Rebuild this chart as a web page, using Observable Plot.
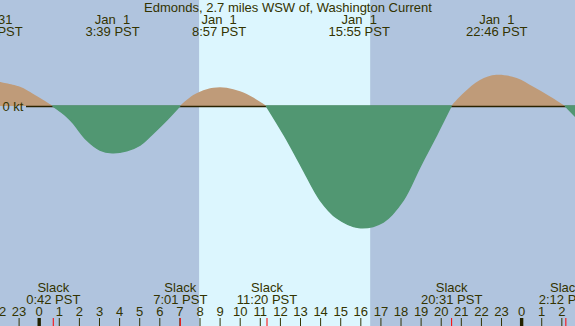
<!DOCTYPE html>
<html>
<head>
<meta charset="utf-8">
<script src="https://cdn.jsdelivr.net/npm/d3@7"></script>
<script src="https://cdn.jsdelivr.net/npm/@observablehq/plot@0.6"></script>
<style>
  html, body { margin: 0; padding: 0; overflow: hidden; background: #b0c4de; }
</style>
</head>
<body>
<div id="chart"></div>
<script>
// ---- data (hours relative to Jan 1 00:00 PST, speed in knots; flood +, ebb -) ----
const titleText = "Edmonds, 2.7 miles WSW of, Washington Current";
const curveHours = [-1.925, -0.93, -0.27, 0.23, 0.70,
  1.39, 1.72, 2.39, 3.05, 3.65, 4.38, 5.04, 5.70, 6.37, 7.017,
  7.69, 8.36, 9.02, 9.68, 10.35, 11.01, 11.333,
  12.25, 13.08, 14.0, 14.83, 15.917, 17.14, 18.14, 18.97, 19.80, 20.517,
  21.12, 21.95, 22.767, 23.78, 24.61, 25.44, 26.2, 26.68];
const curveKnots = [0.30, 0.24, 0.15, 0.075, 0,
  -0.13, -0.216, -0.425, -0.55, -0.584, -0.56, -0.49, -0.34, -0.175, 0,
  0.1375, 0.21, 0.234, 0.21, 0.15, 0.054, 0,
  -0.38, -0.76, -1.175, -1.40, -1.52, -1.45, -1.175, -0.76, -0.36, 0,
  0.16, 0.325, 0.39, 0.35, 0.24, 0.12, 0, -0.125];
const extremaHours = [-2.35, 3.65, 8.95, 15.917, 22.767];
const extremaLabels = ["Dec 31\n21:39 PST", "Jan\u00a0\u00a01\n3:39 PST", "Jan\u00a0\u00a01\n8:57 PST",
  "Jan\u00a0\u00a01\n15:55 PST", "Jan\u00a0\u00a01\n22:46 PST"];
const slackHours = [0.7, 7.017, 11.333, 20.517, 26.2];
const slackLabels = ["Slack\n0:42 PST", "Slack\n7:01 PST", "Slack\n11:20 PST", "Slack\n20:31 PST", "Slack\n2:12 PST"];
const hourTicks = [-2, -1, 0, 1, 2, 3, 4, 5, 6, 7, 8, 9, 10, 11, 12, 13, 14, 15, 16, 17, 18, 19, 20, 21, 22, 23, 24, 25, 26];
const hourLabels = ["22", "23", "0", "1", "2", "3", "4", "5", "6", "7", "8", "9", "10", "11", "12", "13", "14",
  "15", "16", "17", "18", "19", "20", "21", "22", "23", "0", "1", "2"];
const midnightHours = [0, 24];
const daylight = [{start: 7.98, end: 16.49}];
const zeroLabel = "0 kt";
const xDomain = [-1.925, 26.68];
const yDomain = [-2, 1.25];

// ---- build table: split into segments at slack (zero) points ----
const pts = [];
let seg = 0;
for (let i = 0; i < curveHours.length; i++) {
  const p = {h: curveHours[i], v: curveKnots[i]};
  if (p.v === 0 && i > 0) {
    pts.push({...p, seg});
    seg++;
    pts.push({...p, seg});
  } else {
    pts.push({...p, seg});
  }
}
const segSign = {};
for (const p of pts) if (p.v !== 0) segSign[p.seg] = Math.sign(p.v);
const flood = pts.filter(p => segSign[p.seg] > 0);
const ebb = pts.filter(p => segSign[p.seg] < 0);

const ink = "#333300";
const font = "'Liberation Sans', Arial, sans-serif";

const chart = Plot.plot({
  width: 575,
  height: 326,
  margin: 0,
  style: {background: "#b0c4de", fontFamily: font, fontSize: "13px", overflow: "visible"},
  x: {domain: xDomain, range: [0, 575], axis: null},
  y: {domain: yDomain, range: [266, 6], axis: null},
  marks: [
    Plot.rectX(daylight, {x1: "start", x2: "end", fill: "#dcf6fe"}),
    Plot.areaY(flood, {x: "h", y: "v", z: "seg", fill: "#bf9b79", curve: "catmull-rom"}),
    Plot.ruleY([0], {stroke: "#2a2200", strokeWidth: 1.6, insetLeft: 26}),
    Plot.areaY(ebb, {x: "h", y: "v", z: "seg", fill: "#519772", stroke: "#519772", strokeWidth: 1.5, curve: "catmull-rom"}),
    Plot.text([zeroLabel], {y: 0, frameAnchor: "left", textAnchor: "start", dx: 2, fill: ink}),
    Plot.text([titleText], {frameAnchor: "top", lineAnchor: "top", dy: 2.5, fill: ink}),
    Plot.text(extremaHours, {x: d => d, text: (d, i) => extremaLabels[i], frameAnchor: "top", lineAnchor: "top",
      dy: 14.8, lineHeight: 0.923, fill: ink}),
    Plot.text(slackHours, {x: d => d, text: (d, i) => slackLabels[i], frameAnchor: "bottom", lineAnchor: "top",
      dy: -42.9, lineHeight: 0.923, fill: ink}),
    Plot.text(hourTicks, {x: d => d, text: (d, i) => hourLabels[i], frameAnchor: "bottom", lineAnchor: "top",
      dy: -19.5, fill: ink}),
    Plot.ruleX(hourTicks.filter(h => !midnightHours.includes(h)), {x: d => d, insetTop: 318, stroke: ink, strokeWidth: 1}),
    Plot.ruleX(midnightHours, {x: d => d, insetTop: 318, stroke: "#222200", strokeWidth: 3.4}),
    Plot.ruleX(slackHours, {x: d => d, insetTop: 318, stroke: "#ff0000", strokeWidth: 1})
  ]
});
document.getElementById("chart").appendChild(chart);
</script>
</body>
</html>
